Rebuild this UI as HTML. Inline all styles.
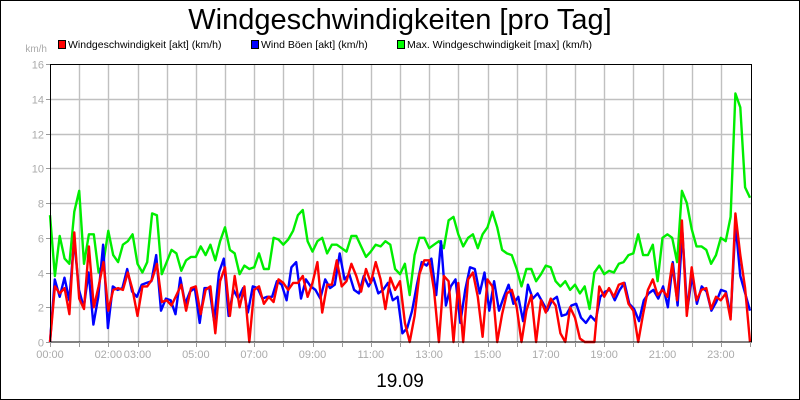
<!DOCTYPE html>
<html><head><meta charset="utf-8"><style>
html,body{margin:0;padding:0;background:#fff;}
svg{display:block;font-family:"Liberation Sans",sans-serif;}
</style></head><body>
<svg id="chart" width="800" height="400" viewBox="0 0 800 400">
<rect x="0.5" y="0.5" width="799" height="399" fill="#fff" stroke="#000"/>
<text x="400" y="29" font-size="29" text-anchor="middle" fill="#000">Windgeschwindigkeiten [pro Tag]</text>
<g>
<g><rect x="58.5" y="40.5" width="7" height="8" fill="#f00" stroke="#000"/><text x="68" y="48" font-size="10.5">Windgeschwindigkeit [akt] (km/h)</text></g>
<g><rect x="251.5" y="40.5" width="7" height="8" fill="#00f" stroke="#000"/><text x="261" y="48" font-size="10.5">Wind Böen [akt] (km/h)</text></g>
<g><rect x="397.5" y="40.5" width="7" height="8" fill="#0f0" stroke="#000"/><text x="407" y="48" font-size="10.5">Max. Windgeschwindigkeit [max] (km/h)</text></g>
</g>
<text x="47" y="52" font-size="10" text-anchor="end" fill="#aaa">km/h</text>
<g id="grid"></g>
<g id="series"></g>
<rect x="50.5" y="64.5" width="701" height="277.5" fill="none" stroke="#000"/>
<g id="axes"></g>
<text x="400" y="387" font-size="19" text-anchor="middle" fill="#000">19.09</text>
</svg>
<script>
const yTicks = [0,2,4,6,8,10,12,14,16];
const xTickLabels = ["00:00","02:00","03:00","05:00","07:00","09:00","11:00","13:00","15:00","17:00","19:00","21:00","23:00"];
const xTickHours = [0,2,3,5,7,9,11,13,15,17,19,21,23];
const maxSpeed = [7.3,3.8,6.1,4.8,4.5,7.5,8.7,4.5,6.2,6.2,4.0,4.6,6.4,5.0,4.6,5.6,5.8,6.2,4.5,4.0,4.6,7.4,7.3,3.9,4.6,5.3,5.1,4.1,4.7,4.9,4.9,5.5,5.0,5.6,4.7,5.8,6.6,5.3,5.1,3.9,4.4,4.2,4.3,5.1,4.2,4.2,6.0,5.9,5.6,5.9,6.4,7.3,7.6,5.8,5.2,5.8,6.0,5.1,5.6,5.6,5.4,5.2,6.1,6.1,5.5,4.9,5.2,5.6,5.5,5.8,5.6,4.2,3.9,4.5,2.7,5.0,6.0,6.0,5.4,5.6,5.8,5.4,7.0,7.2,6.2,5.5,6.0,6.2,5.4,6.2,6.6,7.5,6.6,5.3,5.1,5.0,4.2,3.2,4.2,4.2,3.5,3.9,4.4,4.3,3.5,3.2,3.5,3.0,3.3,2.8,3.2,1.9,4.0,4.4,3.9,4.1,4.0,4.5,4.6,5.0,5.1,6.2,5.0,5.0,5.6,3.5,6.0,6.2,6.0,4.6,8.7,8.0,6.5,5.5,5.5,5.3,4.5,5.0,6.0,5.8,7.2,14.3,13.5,8.9,8.3];
const gusts = [0,3.6,2.6,3.7,2.4,5.9,3.0,2.0,4.0,1.0,2.6,5.6,0.8,3.2,3.0,3.1,4.2,2.9,2.6,3.3,3.4,3.5,5.0,1.8,2.5,2.4,1.6,3.7,2.2,2.9,3.1,1.1,3.1,3.1,1.2,4.0,4.8,1.5,3.0,2.5,3.1,1.7,3.2,3.1,2.5,2.6,2.6,3.5,3.3,2.4,4.3,4.6,2.5,3.6,3.2,3.0,2.5,3.6,3.1,3.3,5.1,3.6,3.9,3.0,2.8,3.8,3.2,3.7,2.8,3.0,3.4,2.4,2.6,0.5,0.8,1.8,3.3,4.6,4.4,4.8,2.7,5.8,2.1,3.2,3.6,1.1,3.0,4.3,4.2,2.8,4.0,1.8,3.5,1.8,2.6,3.3,2.2,2.6,1.2,3.3,2.5,2.8,2.3,1.8,2.4,2.6,1.5,1.6,2.1,2.2,1.4,1.1,1.5,1.2,2.6,2.9,3.0,2.4,3.0,3.4,2.2,1.9,1.2,2.4,2.8,3.0,2.5,3.2,2.0,4.6,2.1,6.3,1.8,3.8,2.2,3.2,2.9,1.8,2.3,3.0,2.9,1.5,6.8,3.8,2.8,1.8];
const speed = [0,3.2,2.8,3.1,1.6,6.3,2.5,1.9,5.5,2.0,3.2,4.6,1.8,3.0,3.1,3.0,4.0,3.0,1.5,3.2,3.2,3.6,4.5,2.3,2.4,2.1,2.7,3.3,1.8,3.1,3.2,1.6,3.0,3.2,0.5,3.5,4.3,1.5,3.8,2.0,3.2,0,3.0,3.2,2.2,2.6,2.3,3.6,3.4,3.0,3.4,3.4,3.8,2.6,3.4,4.6,1.7,3.3,3.3,4.7,3.2,3.5,4.5,3.8,2.9,4.2,3.4,4.6,3.6,1.9,3.7,3.0,3.5,1.1,0,1.5,3.9,4.7,4.7,3.0,0,3.8,3.5,0,3.4,0,3.6,4.0,2.6,0.3,3.6,3.2,0,1.6,2.8,3.0,2.0,0,1.8,2.7,0,2.4,1.7,2.5,2.1,0.5,0,2.0,1.4,0.2,0,0,0,3.2,2.6,3.1,2.6,3.3,3.4,2.2,1.8,0,1.6,3.0,3.6,2.7,3.0,2.6,4.5,2.4,7.0,1.5,4.3,2.4,3.0,3.1,1.9,2.6,2.4,2.8,1.3,7.4,5.0,3.1,0];

const NS = "http://www.w3.org/2000/svg";
const X0 = 50, X1 = 750, Y0 = 342, Y1 = 64;
function xHour(h){ return X0 + (X1 - X0) * h / 24; }
function xIdx(i, n){ return X0 + (X1 - X0) * i / (n - 1); }
function yVal(v){ return Y0 - (Y0 - Y1) * v / 16; }
function mk(tag, attrs, parent){ const e = document.createElementNS(NS, tag); for (const k in attrs) e.setAttribute(k, attrs[k]); parent.appendChild(e); return e; }

const grid = document.getElementById("grid");
const axes = document.getElementById("axes");
for (const t of yTicks) {
  const y = Math.round(yVal(t)) + 0.5;
  if (t > 0 && t < 16) {
    const gl = mk("line", {x1: X0, x2: 752, y1: y, y2: y, stroke: "#c0c0c0", "stroke-width": 1.4}, grid);
    
    
  }
  const tk = mk("line", {x1: 46, x2: 50, y1: y, y2: y, stroke: "#999"}, axes);
  
  
  const lb = mk("text", {x: 44, y: y + 4, "font-size": 11, "text-anchor": "end", fill: "#aaa"}, axes);
  lb.textContent = t;
  
  
}
for (let h = 1; h < 24; h++) {
  const x = Math.round(xHour(h)) + 0.5;
  const gl = mk("line", {x1: x, x2: x, y1: Y1, y2: Y0, stroke: "#c0c0c0", "stroke-width": 1.4}, grid);
  
  
}
for (let h = 0; h <= 24; h++) {
  const x = Math.round(xHour(h)) + 0.5;
  const tk = mk("line", {x1: x, x2: x, y1: Y0, y2: Y0 + 5, stroke: "#999"}, axes);
  
  
}
xTickLabels.forEach((lab, i) => {
  const t = mk("text", {x: xHour(xTickHours[i]), y: 358, "font-size": 11, "text-anchor": "middle", fill: "#aaa"}, axes);
  t.textContent = lab;
  
  
});

const series = document.getElementById("series");
function drawLine(vals, color, name) {
  const pts = vals.map((v, i) => xIdx(i, vals.length).toFixed(1) + "," + yVal(v).toFixed(1)).join(" ");
  const pl = mk("polyline", {points: pts, fill: "none", stroke: color, "stroke-width": 2.4, "stroke-linejoin": "round"}, series);
  
  
}
drawLine(maxSpeed, "#00ee00", "max-speed-line");
drawLine(gusts, "#0000ff", "gusts-line");
drawLine(speed, "#ff0000", "wind-speed-line");
</script>
</body></html>
